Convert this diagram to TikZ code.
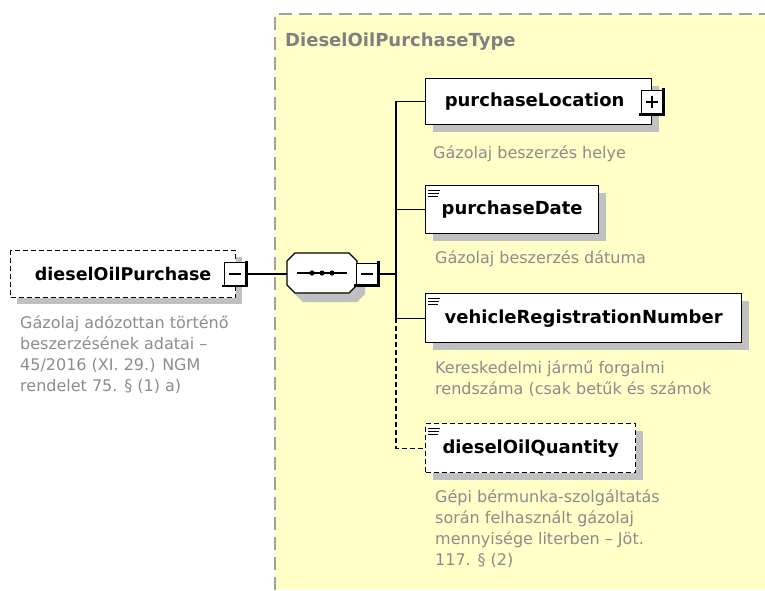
\documentclass[tikz,border=0pt]{standalone}
\usepackage{fontspec}
\setmainfont{DejaVu Sans}
\definecolor{bgyellow}{RGB}{255,255,200}
\definecolor{shadowgray}{RGB}{192,192,192}
\definecolor{desc}{RGB}{140,140,140}
\definecolor{titlegray}{RGB}{128,128,128}
\definecolor{framegray}{RGB}{160,160,160}
\begin{document}
\begin{tikzpicture}[x=1pt,y=-1pt,
  elem/.style={draw=black, fill=white, line width=1.3pt, inner sep=0pt, anchor=north west, font=\bfseries\fontsize{18}{20}\selectfont},
  optelem/.style={elem, dash pattern=on 5pt off 3pt},
  desctext/.style={anchor=north west, inner sep=0pt, align=left, text=desc, font=\fontsize{16}{21}\selectfont},
  conn/.style={draw=black, line width=1.3pt},
  optconn/.style={conn, dash pattern=on 5pt off 3pt},
  togglebox/.style={draw=black, fill=white, line width=1pt, minimum width=22pt, minimum height=23pt, inner sep=0pt},
  thickedge/.style={line width=2.6pt, line cap=rect},
  sign/.style={line width=1.2pt},
  iconline/.style={line width=1pt}
]
\useasboundingbox (0,0) rectangle (765,590);
% type region
\fill[bgyellow] (275,14) rectangle (765,590);
\draw[framegray, line width=1.5pt, dash pattern=on 13pt off 7pt] (275,590) -- (275,14) -- (765,14);
\node[anchor=west, inner sep=0pt, text=titlegray, font=\bfseries\fontsize{18}{20}\selectfont] (title) at (285,42) {DieselOilPurchaseType};

% shadows
\fill[shadowgray] (17,257) rectangle (242,304);
\fill[shadowgray] (433,86) rectangle (659,132);
\fill[shadowgray] (433,193) rectangle (606,241);
\fill[shadowgray] (433,301) rectangle (749,350);
\fill[shadowgray] (433,431) rectangle (643,480);
\fill[shadowgray] (303,262) -- (357,262) -- (365,270) -- (365,294) -- (357,302) -- (303,302) -- (295,294) -- (295,270) -- cycle;

% root element
\node[optelem, minimum width=225pt, minimum height=47pt, font=\bfseries\fontsize{17.5}{20}\selectfont] (dop) at (10,250) {dieselOilPurchase};
\node[togglebox] (dopm) at (235,274) {};
\draw[thickedge] (dopm.north east) -- (dopm.south east) -- (dopm.south west);
\draw[sign] ([xshift=-6pt]dopm.center) -- ([xshift=6pt]dopm.center);
\node[desctext] (dopd) at (20,315) {Gázolaj adózottan történő\\beszerzésének adatai –\\45/2016 (XI. 29.) NGM\\rendelet 75. § (1) a)};

% sequence compositor
\draw[fill=white, line width=1.3pt] (295,253) -- (349,253) -- (357,261) -- (357,285) -- (349,293) -- (295,293) -- (287,285) -- (287,261) -- cycle;
\coordinate (seqw) at (287,274);
\draw[line width=1.3pt] (297,273) -- (347,273);
\foreach \dx in {312,322,332} \fill (\dx,273) circle (2.6pt);
\node[togglebox, minimum height=22pt] (seqm) at (367,274) {};
\draw[thickedge] (seqm.north east) -- (seqm.south east) -- (seqm.south west);
\draw[sign] ([xshift=-6pt]seqm.center) -- ([xshift=6pt]seqm.center);
\coordinate (spine) at (396,274);

% child elements
\node[elem, minimum width=226pt, minimum height=46pt] (pl) at (425,78) {purchaseLocation\hspace*{8pt}};
\node[togglebox, minimum height=24pt] (plp) at (652,102) {};
\draw[thickedge] (plp.north east) -- (plp.south east) -- (plp.south west);
\draw[sign] ([xshift=-6pt]plp.center) -- ([xshift=6pt]plp.center);
\draw[sign] ([yshift=-6pt]plp.center) -- ([yshift=6pt]plp.center);
\node[desctext] (pld) at (433,145) {Gázolaj beszerzés helye};

\node[elem, minimum width=173pt, minimum height=48pt] (pd) at (425,185) {\raisebox{-2pt}{purchaseDate}};
\node[desctext] (pdd) at (435,250) {Gázolaj beszerzés dátuma};

\node[elem, minimum width=316pt, minimum height=49pt] (vr) at (425,293) {\raisebox{-2pt}{vehicleRegistrationNumber}};
\node[desctext] (vrd) at (435,360) {Kereskedelmi jármű forgalmi\\rendszáma (csak betűk és számok};

\node[optelem, minimum width=210pt, minimum height=49pt] (dq) at (425,423) {\raisebox{-2pt}{dieselOilQuantity}};
\node[desctext] (dqd) at (435,489) {Gépi bérmunka-szolgáltatás\\során felhasznált gázolaj\\mennyisége literben – Jöt.\\117. § (2)};

% simple-type icons
\foreach \n in {pd,vr,dq} {
  \draw[iconline] ([shift={(3,5)}]\n.north west) -- ++(12,0);
  \draw[iconline] ([shift={(3,8.3)}]\n.north west) -- ++(11,0);
  \draw[iconline] ([shift={(3,11.7)}]\n.north west) -- ++(9.5,0);
}

% connectors
\draw[conn] (dopm.east) -- (seqw);
\draw[conn] (seqm.east) -- (spine);
\draw[conn] (spine) |- (pl.west);
\draw[conn] (spine) |- (pd.west);
\draw[conn] (spine) |- (vr.west);
\draw[optconn] (vr.west -| spine) |- (dq.west);
\end{tikzpicture}
\end{document}
